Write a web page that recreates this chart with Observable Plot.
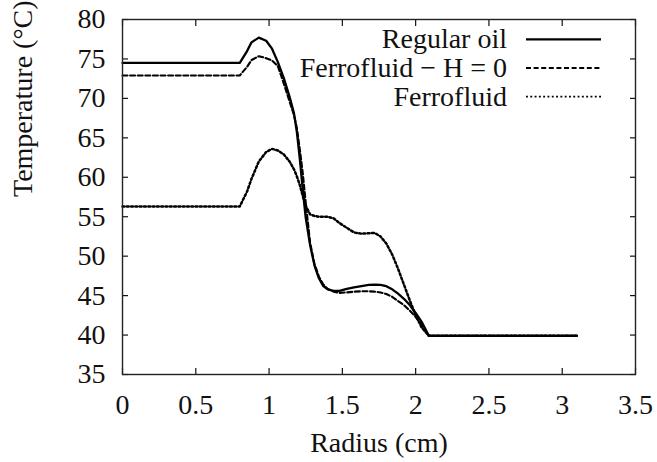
<!DOCTYPE html>
<html>
<head>
<meta charset="utf-8">
<script src="https://cdn.jsdelivr.net/npm/d3@7"></script>
<script src="https://cdn.jsdelivr.net/npm/@observablehq/plot@0.6"></script>
<style>
  html, body { margin: 0; padding: 0; background: #fff; }
  #chart svg { display: block; }
  #chart svg text { font-family: "Liberation Serif", Tinos, "Times New Roman", Times, serif; }
</style>
</head>
<body>
<div id="chart"></div>
<script>
// Radial temperature profiles (radius in cm, temperature in °C)
const radius = [0, 0.8, 0.85, 0.88, 0.93, 0.98, 1.02, 1.06, 1.10, 1.14, 1.17, 1.19, 1.21, 1.23, 1.25,
  1.28, 1.31, 1.34, 1.37, 1.40, 1.44, 1.48, 1.53, 1.58, 1.63, 1.68, 1.72, 1.76, 1.80, 1.84, 1.88,
  1.92, 1.96, 2.00, 2.04, 2.09, 3.10];

const regularOil = [74.5, 74.5, 76.0, 77.1, 77.7, 77.3, 76.3, 74.6, 72.6, 70.2, 68.1, 65.7, 62.3, 58.4, 54.9,
  51.4, 48.8, 47.2, 46.2, 45.8, 45.6, 45.6, 45.85, 46.05, 46.2, 46.35, 46.4, 46.35, 46.2, 45.8, 45.25,
  44.6, 43.8, 42.8, 41.7, 39.9, 39.9];

const ferrofluidH0 = [72.9, 72.9, 74.0, 74.85, 75.35, 75.1, 74.8, 74.1, 71.9, 69.6, 67.9, 66.2, 63.5, 60.5, 56.8,
  51.7, 49.0, 47.4, 46.4, 45.85, 45.5, 45.35, 45.4, 45.5, 45.55, 45.55, 45.5, 45.4, 45.2, 44.85, 44.3,
  43.8, 43.1, 42.3, 41.3, 39.9, 39.9];

const ferrofluid = [56.3, 56.3, 58.2, 59.8, 62.0, 63.2, 63.6, 63.4, 62.9, 62.0, 61.0, 60.1, 59.0, 57.6, 56.4,
  55.3, 55.1, 55.0, 55.0, 55.0, 54.8, 54.2, 53.6, 53.0, 52.85, 52.9, 52.95, 52.5, 51.6, 50.2, 48.4,
  46.4, 44.4, 42.5, 41.0, 39.9, 39.9];

const seriesNames = ["Regular oil", "Ferrofluid \u2212 H = 0", "Ferrofluid"];
const xTicks = [0, 0.5, 1, 1.5, 2, 2.5, 3, 3.5];
const yTicks = [35, 40, 45, 50, 55, 60, 65, 70, 75, 80];
const xTitle = "Radius (cm)";
const yTitle = "Temperature (\u00B0C)";

const font = "Liberation Serif, Tinos, Times New Roman, Times, serif";
const fontSize = 28;
const ink = "#111";

// line styles: solid, dashed, dotted
const styles = [
  {strokeWidth: 2.3, strokeDasharray: null},
  {strokeWidth: 2.1, strokeDasharray: "5,2.6"},
  {strokeWidth: 2.5, strokeDasharray: "1.9,2.4"}
];

const rows = [regularOil, ferrofluidH0, ferrofluid].map(values =>
  radius.map((r, i) => ({r, t: values[i]}))
);

const W = 657, H = 462;
const margin = {left: 122, right: 22, top: 19, bottom: 88};

const chart = Plot.plot({
  width: W,
  height: H,
  marginLeft: margin.left,
  marginRight: margin.right,
  marginTop: margin.top,
  marginBottom: margin.bottom,
  style: {fontFamily: font, fontSize: `${fontSize}px`, color: ink, background: "#fff"},
  x: {domain: [0, 3.5]},
  y: {domain: [35, 80]},
  marks: [
    Plot.axisX(xTicks, {anchor: "bottom", tickSize: -6, tickPadding: 26, tickFormat: d => String(d), label: null, fontSize, strokeWidth: 1.2}),
    Plot.axisX(xTicks, {anchor: "top", tickSize: -6, tickFormat: () => "", label: null, strokeWidth: 1.2}),
    Plot.axisY(yTicks, {anchor: "left", tickSize: -6, tickPadding: 23, tickFormat: d => String(d), label: null, fontSize, strokeWidth: 1.2}),
    Plot.axisY(yTicks, {anchor: "right", tickSize: -6, tickFormat: () => "", label: null, strokeWidth: 1.2}),
    ...rows.map((data, s) => Plot.line(data, {
      x: "r", y: "t", stroke: "#000",
      strokeWidth: styles[s].strokeWidth,
      strokeDasharray: styles[s].strokeDasharray,
      strokeLinejoin: "round"
    })),
    Plot.frame({stroke: "#222", strokeWidth: 1.4}),
    Plot.text([xTitle], {frameAnchor: "bottom", text: d => d, dy: 77, fontSize, fill: ink}),
    Plot.text([yTitle], {frameAnchor: "left", text: d => d, dx: -99, rotate: -90, fontSize, fill: ink})
  ]
});

// key in the upper right of the frame
const svg = d3.select(chart);
const frameRight = W - margin.right;
const key = svg.append("g")
  .attr("font-size", fontSize)
  .attr("fill", ink);
seriesNames.forEach((name, i) => {
  const cy = margin.top + 20.3 + i * 28.7;
  key.append("text")
    .attr("x", frameRight - 128)
    .attr("y", cy)
    .attr("dy", "0.32em")
    .attr("text-anchor", "end")
    .text(name);
  key.append("line")
    .attr("x1", frameRight - 109)
    .attr("x2", frameRight - 34)
    .attr("y1", cy)
    .attr("y2", cy)
    .attr("stroke", "#000")
    .attr("stroke-width", i === 0 ? styles[i].strokeWidth : 1.8)
    .attr("stroke-dasharray", styles[i].strokeDasharray);
});

document.getElementById("chart").appendChild(chart);
</script>
</body>
</html>
